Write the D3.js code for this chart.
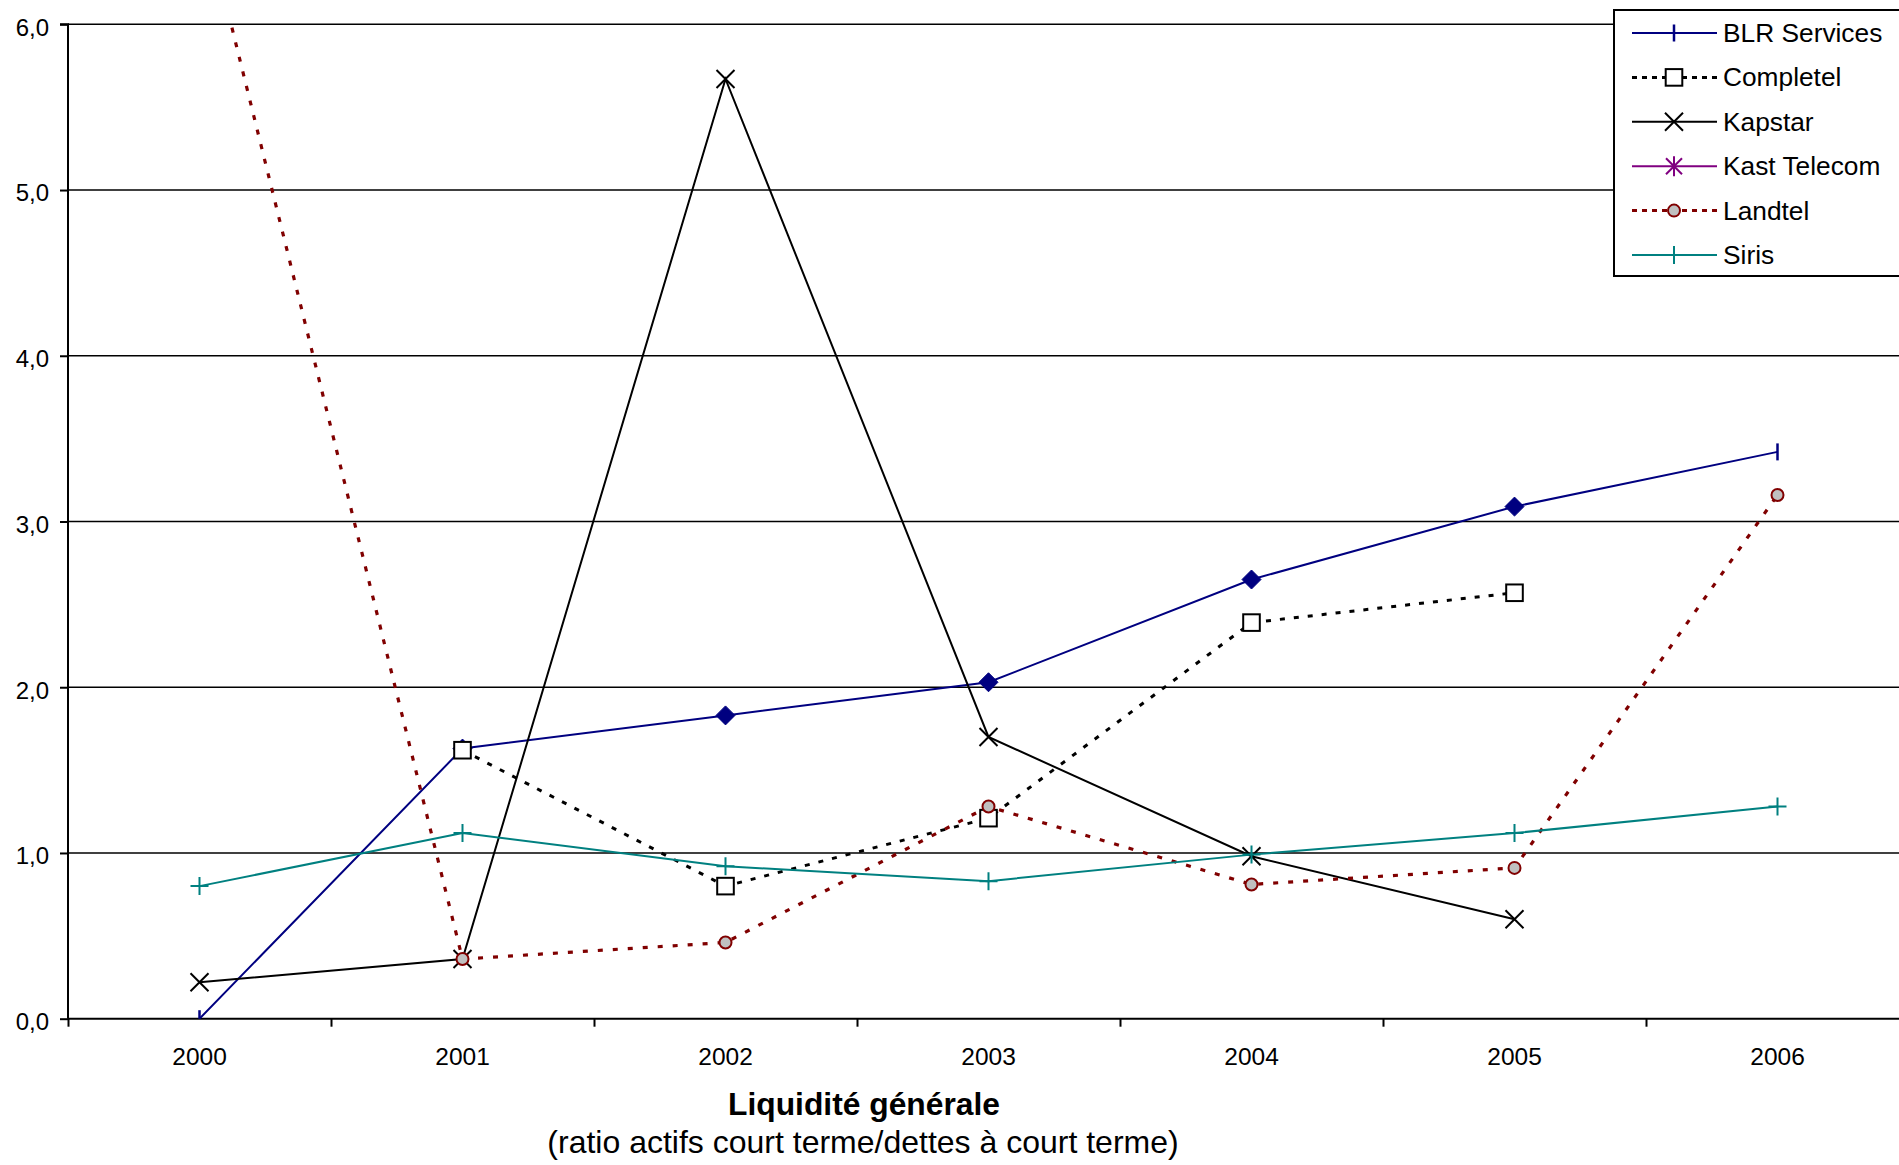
<!DOCTYPE html>
<html>
<head>
<meta charset="utf-8">
<script src="https://cdn.jsdelivr.net/npm/d3@7"></script>
<style>
  html, body { margin: 0; padding: 0; background: #fff; }
  svg { display: block; }
  text { font-family: "Liberation Sans", Arial, sans-serif; fill: #000; }
</style>
</head>
<body>
<svg id="chart" width="1899" height="1165"></svg>
<script>
// ---- data ----
const years = ["2000", "2001", "2002", "2003", "2004", "2005", "2006"];
const blrServices = [0.00, 1.63, 1.83, 2.03, 2.65, 3.09, 3.42];
const completel   = [null, 1.62, 0.80, 1.21, 2.39, 2.57, null];
const kapstar     = [0.22, 0.36, 5.67, 1.70, 0.98, 0.60, null];
const kastTelecom = [null, null, null, null, null, null, null];
const landtel     = [6.77, 0.36, 0.46, 1.28, 0.81, 0.91, 3.16];
const siris       = [0.80, 1.12, 0.92, 0.83, 0.99, 1.12, 1.28];
const yTicks = [0, 1, 2, 3, 4, 5, 6];
const seriesNames = ["BLR Services", "Completel", "Kapstar", "Kast Telecom", "Landtel", "Siris"];
const titleText = "Liquidité générale";
const subtitleText = "(ratio actifs court terme/dettes à court terme)";

// ---- styles ----
const series = [
  { name: seriesNames[0], values: blrServices, color: "#000080", width: 2, dash: null, marker: "diamond", endMarker: "vbar", legendMarker: "vbar" },
  { name: seriesNames[1], values: completel, color: "#000000", width: 3, dash: "5,9", marker: "square", legendMarker: "square" },
  { name: seriesNames[2], values: kapstar, color: "#000000", width: 2, dash: null, marker: "x", legendMarker: "x" },
  { name: seriesNames[3], values: kastTelecom, color: "#800080", width: 2, dash: null, marker: "asterisk", legendMarker: "asterisk" },
  { name: seriesNames[4], values: landtel, color: "#800000", width: 3.2, dash: "5,10", marker: "circle", legendMarker: "circle" },
  { name: seriesNames[5], values: siris, color: "#008080", width: 2, dash: null, marker: "plus", legendMarker: "plus" }
];

const svg = d3.select("#chart");
const plotLeft = 68, plotRight = 1909, plotTop = 24.3, plotBottom = 1018.7;

const x = d3.scaleBand().domain(years).range([plotLeft, plotRight]).padding(0);
const xTickPos = d3.scaleLinear().domain([0, years.length]).range([plotLeft, plotRight]);
const y = d3.scaleLinear().domain([0, 6]).range([plotBottom, plotTop]);
const fmt = v => d3.format(".1f")(v).replace(".", ",");
const cx = yr => x(yr) + x.bandwidth() / 2;

// clip
svg.append("defs").append("clipPath").attr("id", "plotclip")
  .append("rect").attr("x", plotLeft).attr("y", plotTop).attr("width", plotRight - plotLeft).attr("height", plotBottom - plotTop);

// gridlines
svg.append("g").selectAll("line").data(yTicks.filter(d => d > 0)).join("line")
  .attr("x1", plotLeft).attr("x2", plotRight)
  .attr("y1", d => y(d)).attr("y2", d => y(d))
  .attr("stroke", "#000").attr("stroke-width", 1.4);

// y axis
const yAxis = svg.append("g").attr("transform", `translate(${plotLeft},0)`)
  .call(d3.axisLeft(y).tickValues(yTicks).tickFormat(fmt).tickSize(8).tickPadding(11));
yAxis.select(".domain").attr("stroke-width", 2).attr("d", `M-8,${plotTop}H0V${plotBottom}`);
yAxis.selectAll(".tick line").attr("stroke-width", 2);
yAxis.selectAll("text").attr("font-size", 24).attr("dy", "0.45em")
  .attr("font-family", "Liberation Sans, Arial, sans-serif");

// x axis ticks at category boundaries
const xAxisTicks = svg.append("g").attr("transform", `translate(0,${plotBottom})`)
  .call(d3.axisBottom(xTickPos).tickValues(d3.range(years.length + 1)).tickFormat("").tickSize(8));
xAxisTicks.select(".domain").attr("stroke-width", 2).attr("d", `M${plotLeft},0H${plotRight}`);
xAxisTicks.selectAll(".tick line").attr("stroke-width", 2);

// x axis labels at category centers
const xAxisLabels = svg.append("g").attr("transform", `translate(0,${plotBottom})`)
  .call(d3.axisBottom(x).tickSize(0).tickPadding(29));
xAxisLabels.select(".domain").remove();
xAxisLabels.selectAll("text").attr("font-size", 24.5)
  .attr("font-family", "Liberation Sans, Arial, sans-serif");

// titles
svg.append("text").attr("x", 864).attr("y", 1115).attr("text-anchor", "middle")
  .attr("font-size", 31.8).attr("font-weight", "bold").text(titleText);
svg.append("text").attr("x", 863).attr("y", 1153).attr("text-anchor", "middle")
  .attr("font-size", 32).text(subtitleText);

// markers
function drawMarker(g, type, px, py, s) {
  const c = s.color;
  if (type === "diamond") {
    g.append("path").attr("d", `M${px},${py - 9.5}L${px + 9.5},${py}L${px},${py + 9.5}L${px - 9.5},${py}Z`)
      .attr("fill", c).attr("stroke", c).attr("stroke-width", 1);
  } else if (type === "vbar") {
    g.append("line").attr("x1", px).attr("x2", px).attr("y1", py - 8.5).attr("y2", py + 8.5)
      .attr("stroke", c).attr("stroke-width", 2.5);
  } else if (type === "square") {
    g.append("rect").attr("x", px - 8.3).attr("y", py - 8.3).attr("width", 16.6).attr("height", 16.6)
      .attr("fill", "#fff").attr("stroke", c).attr("stroke-width", 2);
  } else if (type === "x") {
    g.append("path").attr("d", `M${px - 9},${py - 9}L${px + 9},${py + 9}M${px - 9},${py + 9}L${px + 9},${py - 9}`)
      .attr("stroke", c).attr("stroke-width", 2).attr("fill", "none");
  } else if (type === "asterisk") {
    g.append("path").attr("d", `M${px - 8},${py - 8}L${px + 8},${py + 8}M${px - 8},${py + 8}L${px + 8},${py - 8}M${px},${py - 10}L${px},${py + 10}`)
      .attr("stroke", c).attr("stroke-width", 2).attr("fill", "none");
  } else if (type === "circle") {
    g.append("circle").attr("cx", px).attr("cy", py).attr("r", 6)
      .attr("fill", "#c0c0c0").attr("stroke", c).attr("stroke-width", 2);
  } else if (type === "plus") {
    g.append("path").attr("d", `M${px - 9},${py}L${px + 9},${py}M${px},${py - 9}L${px},${py + 9}`)
      .attr("stroke", c).attr("stroke-width", 2).attr("fill", "none");
  }
}

// series lines
const lineGen = d3.line().defined(d => d.v != null).x(d => cx(d.year)).y(d => y(d.v));
const linesG = svg.append("g").attr("clip-path", "url(#plotclip)");
series.forEach(s => {
  const pts = years.map((yr, i) => ({ year: yr, v: s.values[i] }));
  linesG.append("path").datum(pts).attr("d", lineGen)
    .attr("fill", "none").attr("stroke", s.color).attr("stroke-width", s.width)
    .attr("stroke-dasharray", s.dash).attr("stroke-linejoin", "miter");
});
// series markers
const markersG = svg.append("g").attr("clip-path", "url(#plotclip)");
series.forEach(s => {
  const n = s.values.length;
  s.values.forEach((v, i) => {
    if (v == null) return;
    let type = s.marker;
    if (s.endMarker && (i === 0 || i === n - 1)) type = s.endMarker;
    drawMarker(markersG, type, cx(years[i]), y(v), s);
  });
});

// legend
const lg = svg.append("g");
lg.append("rect").attr("x", 1614).attr("y", 10).attr("width", 320).attr("height", 266)
  .attr("fill", "#fff").attr("stroke", "#000").attr("stroke-width", 2);
series.forEach((s, i) => {
  const ly = 33 + i * 44.4;
  lg.append("line").attr("x1", 1632).attr("x2", 1717).attr("y1", ly).attr("y2", ly)
    .attr("stroke", s.color).attr("stroke-width", s.dash ? 3 : 2)
    .attr("stroke-dasharray", s.dash ? "5,5" : null);
  drawMarker(lg, s.legendMarker, 1674, ly, s);
  lg.append("text").attr("x", 1723).attr("y", ly + 9).attr("font-size", 26.3).text(s.name);
});
</script>
</body>
</html>
